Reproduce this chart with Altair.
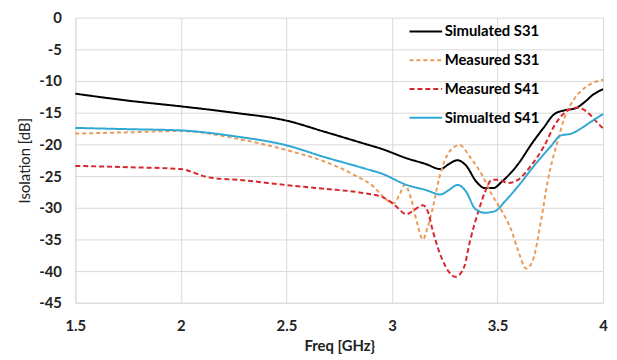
import altair as alt
import pandas as pd

series_names = ["Simulated S31", "Measured S31", "Measured S41", "Simualted S41"]
series_colors = ["#000000", "#E89B5A", "#D9262C", "#30A8D4"]

sim_s31_f = [1.5, 1.75, 2.0, 2.25, 2.5, 2.68, 2.87, 2.95, 3.07, 3.16, 3.23, 3.27, 3.31, 3.35,
             3.40, 3.44, 3.48, 3.52, 3.60, 3.66, 3.72, 3.77, 3.82, 3.87, 3.91, 3.955, 4.0]
sim_s31_v = [-12.0, -13.1, -14.0, -15.0, -16.25, -18.0, -19.9, -20.7, -22.2, -23.1, -23.9, -23.1, -22.5, -23.3,
             -25.9, -26.9, -26.9, -25.9, -23.0, -20.0, -17.3, -15.2, -14.6, -14.3, -13.4, -12.1, -11.3]

meas_s31_f = [1.5, 1.75, 2.0, 2.25, 2.5, 2.68, 2.82, 2.91, 2.96, 3.007, 3.035, 3.061, 3.09, 3.12, 3.146,
              3.17, 3.19, 3.224, 3.271, 3.32, 3.37, 3.426, 3.473, 3.52, 3.566, 3.597, 3.636, 3.667,
              3.706, 3.737, 3.76, 3.784, 3.815, 3.862, 3.925, 4.0]
meas_s31_v = [-18.3, -18.1, -17.9, -19.0, -20.9, -22.7, -24.8, -26.6, -28.3, -29.3, -28.0, -26.4, -28.5, -32.5, -35.0,
              -33.0, -30.5, -25.3, -21.2, -20.1, -22.0, -24.8, -27.9, -30.5, -33.6, -36.7, -39.6, -38.3,
              -32.1, -25.9, -22.5, -19.6, -16.0, -12.9, -10.8, -9.8]

meas_s41_f = [1.5, 1.75, 2.0, 2.13, 2.307, 2.494, 2.68, 2.867, 2.96, 3.007, 3.069, 3.108, 3.146, 3.17,
              3.193, 3.24, 3.302, 3.341, 3.37, 3.41, 3.442, 3.473, 3.504, 3.551, 3.597, 3.66, 3.722,
              3.77, 3.83, 3.878, 3.925, 3.971, 4.0]
meas_s41_v = [-23.4, -23.6, -23.9, -25.2, -25.7, -26.4, -27.0, -27.7, -28.4, -29.4, -31.0, -30.3, -29.6, -30.6,
              -33.6, -38.3, -40.9, -39.4, -35.2, -30.5, -27.4, -25.6, -25.6, -26.1, -25.6, -23.3, -20.2,
              -17.0, -14.7, -14.2, -14.9, -16.5, -17.5]

sim_s41_f = [1.5, 1.75, 2.0, 2.25, 2.5, 2.68, 2.87, 2.95, 3.07, 3.16, 3.23, 3.27, 3.31, 3.35, 3.395,
             3.44, 3.49, 3.535, 3.60, 3.675, 3.75, 3.80, 3.85, 3.89, 3.94, 4.0]
sim_s41_v = [-17.4, -17.6, -17.8, -18.7, -20.15, -22.0, -23.8, -24.6, -26.4, -27.2, -27.9, -27.2, -26.4, -27.4, -30.2,
             -30.8, -30.5, -29.0, -26.5, -23.3, -20.4, -18.6, -18.3, -17.6, -16.5, -15.2]

x_ticks = [1.5, 2.0, 2.5, 3.0, 3.5, 4.0]
y_ticks = [0, -5, -10, -15, -20, -25, -30, -35, -40, -45]

rows = []
for name, fs, vs in [
    (series_names[0], sim_s31_f, sim_s31_v),
    (series_names[1], meas_s31_f, meas_s31_v),
    (series_names[2], meas_s41_f, meas_s41_v),
    (series_names[3], sim_s41_f, sim_s41_v),
]:
    for f, v in zip(fs, vs):
        rows.append({"series": name, "freq": f, "iso": v})
df = pd.DataFrame(rows)

legend = alt.Legend(
    title=None,
    orient="none",
    legendX=343,
    legendY=3,
    symbolType="M-1.65,0H1.65",
    symbolSize=400,
    labelOffset=8,
    rowPadding=10,
    padding=0,
    labelFont="Lato",
    labelFontSize=15,
    labelFontWeight="bold",
    labelColor="#000000",
)

chart = alt.Chart(df).mark_line(interpolate="monotone").encode(
    x=alt.X("freq:Q", scale=alt.Scale(domain=[1.5, 4.0], nice=False, zero=False),
            axis=alt.Axis(values=x_ticks, title="Freq [GHz}", labelExpr="datum.value + ''")),
    y=alt.Y("iso:Q", scale=alt.Scale(domain=[-45, 0], nice=False),
            axis=alt.Axis(values=y_ticks, title="Isolation [dB]", labelExpr="datum.value + ''")),
    color=alt.Color("series:N", scale=alt.Scale(domain=series_names, range=series_colors), legend=legend,
                    sort=series_names),
    strokeDash=alt.StrokeDash("series:N", scale=alt.Scale(domain=series_names,
                              range=[[1, 0], [4, 3], [5, 3], [1, 0]]), legend=legend, sort=series_names),
    strokeWidth=alt.StrokeWidth("series:N", scale=alt.Scale(domain=series_names, range=[2, 2, 2.5, 2]),
                                legend=legend, sort=series_names),
    order=alt.Order("freq:Q"),
).properties(
    width=533,
    height=288,
    autosize=alt.AutoSizeParams(type="none"),
    padding={"left": 68, "top": 8, "right": 6, "bottom": 52},
).configure_view(
    stroke="transparent"
).configure_axis(
    grid=True,
    gridColor="#D9D9D9",
    gridWidth=1,
    domainColor="#D9D9D9",
    ticks=False,
    labelFont="Lato",
    labelFontSize=15,
    labelFontWeight="bold",
    labelColor="#222222",
    titleFont="Lato",
    titleFontSize=15,
    titleColor="#222222",
).configure_axisX(
    labelPadding=16,
    titlePadding=5,
    titleFontWeight="bold",
    labelFlush=False,
).configure_axisY(
    labelPadding=14,
    titlePadding=6,
    titleFontWeight="normal",
)

chart.save("out.html", embed_options={"renderer": "svg", "actions": False})
